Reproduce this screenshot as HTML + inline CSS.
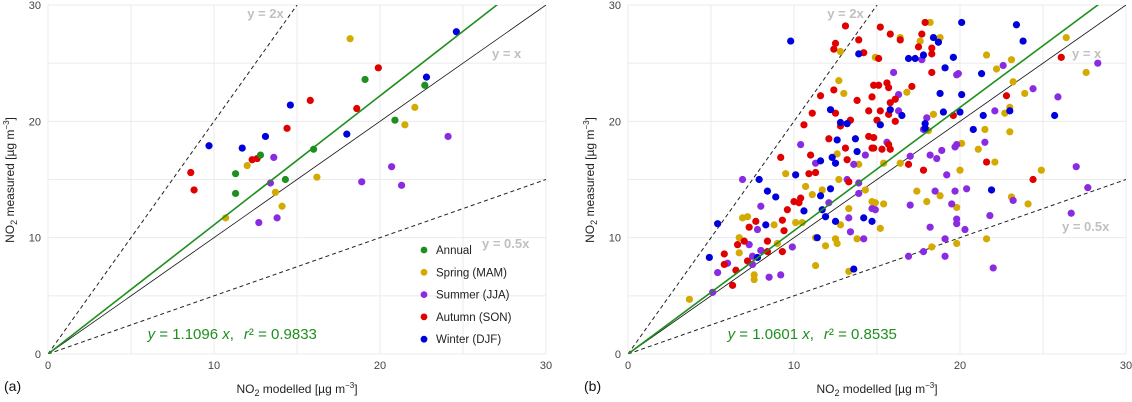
<!DOCTYPE html>
<html><head><meta charset="utf-8"><style>
body{margin:0;background:#fff}
svg{display:block;font-family:"Liberation Sans",sans-serif}
</style></head><body>
<svg id="c" width="1132" height="402" viewBox="0 0 1132 402"></svg>
<script>
const seasons=["Annual","Spring (MAM)","Summer (JJA)","Autumn (SON)","Winter (DJF)"];
const colors=["#1f8f1f","#d4aa00","#8a2be2","#e00000","#0000dd"];
const slopes=[1.1096,1.0601];
const r2=["0.9833","0.8535"];
const ticks=[0,10,20,30];
const grid=[0,5,10,15,20,25,30];
// panel (a)
const aAnnual=[[19.1,23.6],[22.7,23.1],[20.9,20.1],[16.0,17.6],[12.8,17.1],[11.3,15.5],[11.3,13.8],[14.3,15.0]];
const aSpring=[[18.2,27.1],[22.1,21.2],[21.5,19.7],[12.0,16.2],[16.2,15.2],[13.7,13.9],[14.1,12.7],[10.7,11.7]];
const aSummer=[[24.1,18.7],[20.7,16.1],[18.9,14.8],[21.3,14.5],[13.6,16.9],[13.4,14.7],[12.7,11.3],[13.8,11.7]];
const aAutumn=[[19.9,24.6],[15.8,21.8],[18.6,21.1],[14.4,19.4],[12.3,16.7],[12.6,16.8],[8.6,15.6],[8.8,14.1]];
const aWinter=[[24.6,27.7],[22.8,23.8],[14.6,21.4],[13.1,18.7],[11.7,17.7],[9.7,17.9],[18.0,18.9]];
// panel (b)
const bSpring=[[12.8,26.0],[12.7,23.5],[13.0,22.4],[12.6,17.2],[13.9,16.3],[9.5,15.5],[6.9,11.7],[7.2,11.8],[8.8,11.1],[10.1,11.3],[6.7,10.0],[9.0,9.5],[6.7,8.7],[7.6,6.8],[7.6,6.4],[3.7,4.7],[11.3,7.6],[13.3,7.1],[11.3,10.0],[11.9,9.3],[12.5,9.9],[12.6,9.5],[13.8,9.9],[12.8,11.1],[14.9,13.0],[10.7,14.4],[11.1,13.7],[11.7,14.1],[10.5,11.3],[13.3,12.5],[12.7,15.0],[14.3,14.1],[18.2,28.5],[16.4,27.2],[17.6,26.9],[18.8,27.2],[14.9,25.5],[21.6,25.7],[23.1,25.3],[22.2,24.5],[26.4,27.2],[27.6,24.2],[23.2,23.4],[23.9,22.4],[23.0,21.2],[22.7,20.7],[16.8,22.5],[18.4,20.6],[18.1,19.2],[21.5,19.3],[23.0,19.1],[20.1,18.1],[21.1,17.6],[16.4,16.4],[15.4,16.4],[20.0,15.8],[22.1,16.5],[24.9,15.8],[17.4,14.0],[18.8,13.6],[18.0,13.1],[19.8,12.6],[15.4,12.9],[14.7,13.1],[23.1,13.5],[24.1,12.9],[15.2,10.8],[21.6,9.9],[19.8,9.5],[18.3,9.2]];
const bSummer=[[10.4,18.0],[11.3,16.4],[13.6,16.3],[14.3,17.1],[6.9,15.0],[8.0,12.7],[7.8,10.7],[7.3,9.4],[8.0,8.9],[9.9,9.2],[5.4,7.0],[6.0,7.8],[7.5,8.4],[7.5,7.7],[8.5,6.6],[9.2,6.8],[5.1,5.3],[13.4,10.5],[14.2,9.9],[13.3,11.7],[14.9,12.4],[12.1,13.0],[13.2,15.0],[13.9,14.7],[13.9,13.8],[17.7,25.3],[22.6,24.8],[16.0,24.2],[19.8,24.0],[19.9,24.1],[28.3,25.0],[24.4,22.8],[25.9,22.1],[22.1,20.9],[16.3,22.3],[16.3,20.9],[18.0,20.3],[17.8,19.3],[15.6,18.2],[19.8,18.0],[19.7,17.8],[21.5,18.2],[18.9,17.5],[18.2,17.1],[18.6,16.8],[17.0,17.0],[19.2,15.4],[27.0,16.1],[27.7,14.3],[20.4,14.2],[19.7,14.0],[18.5,14.0],[19.5,12.9],[17.0,12.8],[14.7,12.5],[23.2,13.2],[26.7,12.1],[21.8,11.9],[19.8,11.6],[19.8,11.2],[20.3,10.7],[18.2,10.9],[19.1,9.9],[17.8,8.8],[16.9,8.4],[19.1,8.4],[22.0,7.4]];
const bAutumn=[[13.1,28.2],[13.9,27.0],[12.5,26.7],[12.4,26.2],[14.2,25.9],[12.4,22.7],[11.6,22.2],[13.8,21.8],[14.5,20.9],[11.1,20.7],[12.5,20.7],[12.8,19.6],[13.4,20.1],[10.6,19.7],[12.1,18.5],[13.1,17.7],[14.5,18.7],[9.2,16.9],[11.0,17.1],[13.2,16.7],[14.7,17.7],[10.9,15.5],[11.3,15.6],[9.6,12.4],[10.0,13.1],[10.4,13.4],[7.7,11.4],[7.3,10.9],[9.3,11.5],[9.4,10.6],[7.0,9.7],[6.6,9.4],[8.4,9.7],[8.4,8.8],[9.3,8.8],[5.8,8.6],[5.8,7.7],[7.2,8.0],[6.5,7.2],[6.3,5.9],[13.3,14.8],[10.3,13.0],[17.9,28.5],[15.2,28.1],[15.8,27.5],[16.4,27.0],[17.7,27.5],[17.5,26.4],[18.3,26.3],[18.3,25.8],[15.1,25.4],[18.3,24.2],[26.1,25.5],[22.8,22.2],[14.8,23.1],[15.1,23.1],[15.6,23.3],[15.7,22.9],[17.1,23.0],[14.7,22.1],[16.1,21.9],[15.8,21.6],[15.2,20.9],[15.7,20.6],[15.0,20.1],[16.1,20.0],[19.6,20.5],[14.8,18.6],[15.7,18.0],[15.8,17.6],[15.3,17.6],[14.8,17.7],[16.9,16.3],[17.8,15.8],[21.6,16.5],[24.4,15.0]];
const bWinter=[[9.8,26.9],[13.9,25.8],[12.2,21.0],[12.8,19.9],[13.2,19.8],[12.6,18.4],[13.7,18.5],[13.8,17.4],[11.6,16.6],[12.3,16.9],[12.5,16.4],[10.1,15.4],[7.9,15.0],[8.4,14.0],[8.9,13.5],[10.6,12.3],[8.3,11.1],[5.4,11.2],[7.8,8.3],[4.9,8.3],[13.6,7.3],[11.4,10.0],[12.5,11.4],[14.2,11.7],[11.9,11.8],[11.6,13.6],[12.2,14.2],[11.7,12.4],[20.1,28.5],[18.4,27.2],[18.7,26.8],[16.9,25.4],[17.3,25.4],[17.8,25.7],[19.6,25.5],[23.4,28.3],[23.8,26.9],[19.1,24.6],[21.3,24.1],[25.7,20.5],[23.0,20.9],[21.4,20.5],[18.8,22.4],[20.1,22.3],[16.5,20.5],[15.8,21.0],[15.2,19.7],[19.0,20.8],[20.0,20.8],[17.9,19.8],[17.9,19.4],[20.8,19.3],[21.9,14.1],[14.7,11.4]];

const svg=document.getElementById('c');
const NS='http://www.w3.org/2000/svg';
function mk(tag,attrs,parent){const e=document.createElementNS(NS,tag);for(const k in attrs)e.setAttribute(k,attrs[k]);(parent||svg).appendChild(e);return e;}
const Y0=354,Y30=5;
function sy(v){return Y0-(v/30)*(Y0-Y30);}
function panel(x0,x1,label,sets,slope,rr,idx,legend){
  const sx=v=>x0+(v/30)*(x1-x0);
  const g=mk('g',{});
  
  
  const clipId='clip'+idx;
  const cp=mk('clipPath',{id:clipId},g);mk('rect',{x:x0,y:Y30,width:x1-x0,height:Y0-Y30},cp);
  grid.forEach(v=>{
    const gl=mk('line',{x1:sx(v),x2:sx(v),y1:Y30,y2:Y0,stroke:'#ebebeb','stroke-width':1},g);
    
    const hl=mk('line',{x1:x0,x2:x1,y1:sy(v),y2:sy(v),stroke:'#ebebeb','stroke-width':1},g);
    
  });
  ticks.forEach(v=>{
    const t=mk('text',{x:x0-7,y:sy(v)+4,'text-anchor':'end','font-size':11,fill:'#444'},g);t.textContent=v;
    
    const u=mk('text',{x:sx(v),y:369,'text-anchor':'middle','font-size':11,fill:'#444'},g);u.textContent=v;
    
  });
  const lg=mk('g',{'clip-path':'url(#'+clipId+')'},g);
  const l2=mk('line',{x1:sx(0),y1:sy(0),x2:sx(15),y2:sy(30),stroke:'#222','stroke-width':1,'stroke-dasharray':'4,3'},lg);
  
  const l05=mk('line',{x1:sx(0),y1:sy(0),x2:sx(30),y2:sy(15),stroke:'#222','stroke-width':1,'stroke-dasharray':'4,3'},lg);
  
  const l1=mk('line',{x1:sx(0),y1:sy(0),x2:sx(30),y2:sy(30),stroke:'#111','stroke-width':0.8},lg);
  
  const pg=mk('g',{},lg);
  sets.forEach(s=>{s.data.forEach(p=>{
    const c=mk('circle',{cx:sx(p[0]),cy:sy(p[1]),r:3.6,fill:colors[s.c]},pg);
    
    
  });});
  const rl=mk('line',{x1:sx(0),y1:sy(0),x2:sx(30),y2:sy(30*slope),stroke:'#1f8f1f','stroke-width':1.6},lg);
  
  const lab=(txt,x,y,name)=>{const t=mk('text',{x:x,y:y,'font-size':13,'font-weight':'bold',fill:'#c0c0c0'},g);t.textContent=txt;};
  lab('y = 2x',sx(12),18,'label-y-2x');
  lab('y = x',x1-54,58,'label-y-x');
  lab('y = 0.5x',x1-64,idx==0?248:231,'label-y-0.5x');
  const eq=mk('text',{x:sx(6),y:339,'font-size':15,fill:'#1f8f1f'},g);
  
  eq.innerHTML='<tspan font-style="italic">y</tspan> = '+slope.toFixed(4)+' <tspan font-style="italic">x</tspan>,<tspan dx="10" font-style="italic">r</tspan>² = '+rr;
  const xl=mk('text',{x:(x0+x1)/2,y:393,'text-anchor':'middle','font-size':12,fill:'#222'},g);
  
  xl.innerHTML='NO<tspan font-size="9" dy="3">2</tspan><tspan dy="-3"> modelled [µg m</tspan><tspan font-size="8" dy="-5">−3</tspan><tspan dy="5">]</tspan>';
  const yl=mk('text',{transform:'translate('+(x0-34)+',180) rotate(-90)','text-anchor':'middle','font-size':12,fill:'#222'},g);
  
  yl.innerHTML='NO<tspan font-size="9" dy="3">2</tspan><tspan dy="-3"> measured [µg m</tspan><tspan font-size="8" dy="-5">−3</tspan><tspan dy="5">]</tspan>';
  const pl=mk('text',{x:x0-44,y:391,'font-size':14,fill:'#111'},g);pl.textContent='('+label+')';
  
  if(legend){
    const lgd=mk('g',{},g);
    
    seasons.forEach((s,i)=>{
      const y=250+i*22.3;
      const e=mk('g',{},lgd);
      
      mk('circle',{cx:424,cy:y,r:3.4,fill:colors[i]},e);
      const t=mk('text',{x:436,y:y+4,'font-size':11.5,fill:'#222'},e);t.textContent=s;
    });
  }
}
panel(48,546,'a',[{c:1,data:aSpring},{c:2,data:aSummer},{c:3,data:aAutumn},{c:4,data:aWinter},{c:0,data:aAnnual}],slopes[0],r2[0],0,true);
panel(628,1126,'b',[{c:1,data:bSpring},{c:2,data:bSummer},{c:3,data:bAutumn},{c:4,data:bWinter}],slopes[1],r2[1],1,false);
</script>
</body></html>
